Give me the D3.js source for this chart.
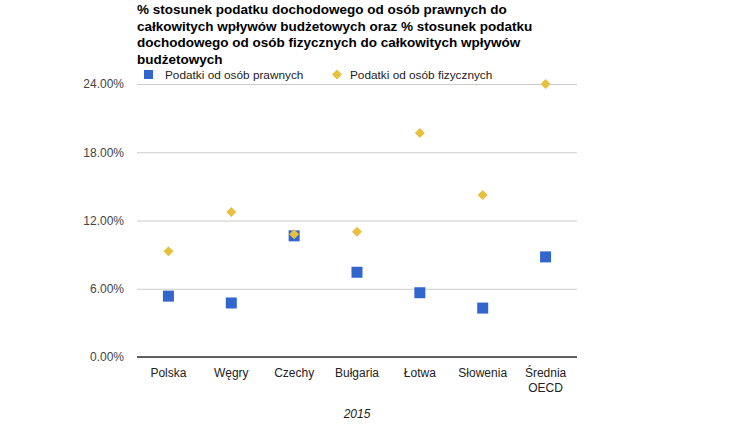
<!DOCTYPE html>
<html><head><meta charset="utf-8">
<script src="https://cdn.jsdelivr.net/npm/d3@7"></script>
<style>body{margin:0;background:#fff;font-family:"Liberation Sans",Arial,sans-serif}</style>
</head><body><svg id="c" width="737" height="442"></svg>
<script>
const categories = ["Polska","Węgry","Czechy","Bułgaria","Łotwa","Słowenia","Średnia OECD"];
const prawne = [5.35, 4.75, 10.65, 7.45, 5.65, 4.3, 8.8];
const fizyczne = [9.3, 12.75, 10.8, 11.0, 19.7, 14.25, 24.0];
const yTicks = [0, 6, 12, 18, 24];
const seriesNames = ["Podatki od osób prawnych","Podatki od osób fizycznych"];
const titleLines = ["% stosunek podatku dochodowego od osób prawnych do","całkowitych wpływów budżetowych oraz % stosunek podatku","dochodowego od osób fizycznych do całkowitych wpływów","budżetowych"];
const xTitle = "2015";

const svg = d3.select("#c");
const L = 137, R = 577, T = 84, B = 357;
const x = d3.scaleBand().domain(categories).range([L, R]);
const y = d3.scaleLinear().domain([0, 24]).range([B, T]);

svg.append("g").selectAll("text").data(titleLines).join("text")
  .attr("x", 137).attr("y", (d,i)=>14 + i*16.5)
  .attr("font-size", 13.5).attr("font-weight", "bold").attr("fill", "#000").text(d=>d);

// grid
const yAxis = d3.axisLeft(y).tickValues(yTicks).tickSize(-(R-L)).tickFormat(d=>d.toFixed(2)+"%");
const gy = svg.append("g").attr("transform",`translate(${L},0)`).call(yAxis);
gy.select(".domain").remove();
gy.selectAll(".tick line").attr("stroke","#ccc");
gy.selectAll(".tick text").attr("x",-13).attr("font-size",12).attr("fill","#444").attr("font-family","Liberation Sans, Arial, sans-serif");
svg.append("line").attr("x1",L).attr("x2",R).attr("y1",y(0)).attr("y2",y(0)).attr("stroke","#333").attr("stroke-width",1.3);

// x axis labels
const gx = svg.append("g");
categories.forEach(c=>{
  const words = c === "Średnia OECD" ? ["Średnia","OECD"] : [c];
  const t = gx.append("text").attr("x", x(c)+x.bandwidth()/2).attr("y", 377)
    .attr("text-anchor","middle").attr("font-size",12).attr("fill","#222");
  words.forEach((w,i)=>t.append("tspan").attr("x", x(c)+x.bandwidth()/2).attr("dy", i?15:0).text(w));
});
svg.append("text").attr("x",(L+R)/2).attr("y",418).attr("text-anchor","middle")
  .attr("font-size",12).attr("font-style","italic").attr("fill","#222").text(xTitle);

const cx = c => x(c)+x.bandwidth()/2;
const blue = "#3366cc", yellow = "#e8c03e";
// markers
svg.append("g").selectAll("rect").data(categories).join("rect")
  .attr("x",d=>cx(d)-5.5).attr("y",(d,i)=>y(prawne[i])-5.5).attr("width",11).attr("height",11)
  .attr("fill",blue);
svg.append("g").selectAll("path").data(categories).join("path")
  .attr("d", d3.symbol(d3.symbolSquare, 50))
  .attr("transform",(d,i)=>`translate(${cx(d)},${y(fizyczne[i])}) rotate(45)`)
  .attr("fill",yellow);

// legend
svg.append("rect").attr("x",144).attr("y",70).attr("width",9).attr("height",9).attr("fill",blue);
svg.append("text").attr("x",165).attr("y",79).attr("font-size",11.8).attr("fill","#222").text(seriesNames[0]);
svg.append("path").attr("d", d3.symbol(d3.symbolSquare, 50)).attr("transform","translate(337,74.5) rotate(45)").attr("fill",yellow);
svg.append("text").attr("x",350).attr("y",79).attr("font-size",11.8).attr("fill","#222").text(seriesNames[1]);
</script></body></html>
